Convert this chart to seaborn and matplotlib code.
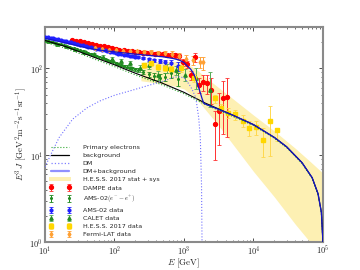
import numpy as np
import pandas as pd
import seaborn as sns
import matplotlib.pyplot as plt
from matplotlib.lines import Line2D
from matplotlib.patches import Patch
from matplotlib.ticker import FuncFormatter, LogLocator, NullFormatter

# model curves (E in GeV, E^3 J)
bkg_E = [10, 20, 50, 100, 200, 500, 1000, 2000, 5000, 1e4, 2e4, 3e4, 5e4, 7e4, 8.5e4, 9.5e4, 1e5]
bkg_F = [210, 178, 135, 110, 88, 67, 53, 40, 29, 22.5, 16, 12.5, 8.2, 5.5, 3.6, 2.2, 1.0]
prim_F = [200, 170, 129, 105, 84, 64, 51, 38.5, 28, 22, 15.6, 12.2, 8.0, 5.4, 3.5, 2.15, 1.0]

dm_E = [10, 12, 16, 25, 40, 61, 100, 180, 316, 550, 700, 850, 1000, 1180, 1300, 1480, 1630, 1720, 1790, 1820]
dm_F = [7.3, 10, 16, 26, 35, 42, 49, 56, 64, 73, 79, 80, 78, 66, 58, 46, 27, 15.7, 4.5, 1.0]

tot_E = [10, 20, 40, 60, 100, 200, 316, 500, 700, 850, 1000, 1100, 1250, 1390, 1530, 1630, 1750, 1820, 1930,
         2000, 5000, 1e4, 2e4, 3e4, 5e4, 7e4, 8.5e4, 9.5e4, 1e5]
tot_F = [222, 196, 172, 163, 155, 146, 141, 136, 130, 125, 117, 108, 98, 86, 70, 60, 50, 45, 39.5,
         39, 29, 22.5, 16, 12.5, 8.2, 5.5, 3.6, 2.2, 1.0]

# H.E.S.S. 2017 stat + sys band
band_E = [240, 400, 700, 1000, 1500, 2000, 3000, 5000, 1e4, 2e4, 4e4, 6.5e4, 1e5]
band_lo = [72, 68, 63, 58, 45, 34, 23, 13.5, 6.5, 3.3, 1.6, 1.0, 0.6]
band_hi = [118, 120, 121, 118, 98, 80, 62, 45, 29, 19, 12, 8.5, 6.2]

# DAMPE
dampe_E = [24.1, 27.8, 31.6, 36.1, 41.2, 47.0, 53.6, 61.2, 69.8, 79.6, 90.9, 104, 118, 135, 154, 176,
           200, 229, 261, 298, 340, 388, 442, 505, 576, 657, 750, 855, 976, 1114, 1270,
           1450, 1654, 1887, 2153, 2457, 2804, 3199, 3650, 4164]
dampe_F = [213, 209, 205, 200, 196, 191, 187, 183, 179, 175, 171, 167, 164, 161, 159, 157,
           155, 153, 151, 150, 149, 148, 147, 146, 144, 143, 141, 138, 117, 112, 84,
           134, 64, 69, 67, 57, 22.7, 32, 45.6, 47]
dampe_lo = [4, 4, 4, 4, 4, 4, 4, 4, 4, 4, 4, 4, 4, 4, 4, 4, 4, 4, 5, 5, 5, 5, 6, 6, 7, 7, 8, 9,
            10, 11, 10, 14, 12, 14, 16, 18, 14, 19, 28, 31]
dampe_hi = [4, 4, 4, 4, 4, 4, 4, 4, 4, 4, 4, 4, 4, 4, 4, 4, 4, 4, 5, 5, 5, 5, 6, 6, 7, 7, 8, 9,
            10, 11, 10, 16, 14, 16, 18, 20, 10, 20, 26, 30]

# AMS-02 electrons
amse_E = [10, 11, 12, 13, 14, 15.5, 17, 18.5, 20, 22, 24, 26.5, 29, 32, 35, 38.5, 42, 46, 50, 55, 60,
          66, 72, 79, 86, 95, 104, 114, 125, 137, 150, 165, 180, 198, 216, 260, 312, 375, 450, 540, 650, 830]
amse_F = [210, 206, 203, 200, 197, 193, 189, 186, 182, 178, 174, 170, 166, 162, 158, 154, 150, 147, 143,
          140, 136, 132, 129, 125, 122, 119, 116, 113, 110, 107, 105, 102, 100, 98, 96, 92, 86, 81, 78,
          80, 88, 76]
amse_err = [2, 2, 2, 2, 2, 2, 2, 2, 2, 2, 2, 2, 2, 2, 2, 2, 2, 2, 2, 2, 2, 2, 2, 2, 2, 2, 3, 3, 3, 3,
            3, 3, 4, 4, 4, 5, 6, 7, 8, 9, 11, 13]

# AMS-02 e+ + e-
ams_E = [10, 11, 12, 13, 14, 15.5, 17, 18.5, 20, 22, 24, 26.5, 29, 32, 35, 38.5, 42, 46, 50, 55, 60,
         66, 72, 79, 86, 95, 104, 114, 125, 137, 150, 165, 180, 198, 216, 260, 312, 375, 450, 540, 650, 830]
ams_F = [232, 229, 226, 223, 220, 216, 213, 209, 206, 202, 199, 195, 192, 188, 185, 181, 178, 175, 172,
         169, 166, 163, 161, 158, 156, 153, 151, 148, 146, 144, 142, 140, 139, 137, 135, 131, 128, 124,
         121, 118, 115, 106]
ams_err = [3, 3, 3, 3, 3, 3, 3, 3, 3, 3, 3, 3, 3, 3, 3, 3, 3, 3, 3, 3, 3, 3, 3, 3, 3, 3, 3, 3, 3, 3,
           3, 4, 4, 4, 4, 4, 5, 6, 7, 8, 10, 12]

# CALET
calet_E = [11, 15, 20, 27, 37, 50, 68, 92, 125, 170, 230, 310, 420, 570, 770, 1040, 1480, 2400]
calet_F = [205, 192, 180, 168, 156, 146, 137, 129, 121, 114, 100, 108, 83, 100, 95, 85, 78, 57]
calet_lo = [5, 5, 5, 5, 5, 5, 5, 5, 6, 7, 8, 9, 10, 11, 12, 14, 20, 21]
calet_hi = [5, 5, 5, 5, 5, 5, 5, 5, 6, 7, 8, 9, 10, 11, 12, 14, 22, 33]

# H.E.S.S. 2017
hess_E = [270, 330, 430, 530, 650, 900, 1390, 2770, 3450, 4370, 5500, 7000, 8700, 11000, 13900, 17300, 21600]
hess_F = [108, 114, 104, 102, 98, 100, 78, 45, 34.5, 31, 29.5, 25, 20.5, 21, 15, 24.7, 19.4]
hess_lo = [8, 8, 8, 8, 8, 9, 8, 5, 4, 4, 4, 4, 4, 4, 5.5, 15, 5]
hess_hi = [8, 8, 8, 8, 8, 9, 8, 5, 4, 4, 4, 4, 4, 4, 5.5, 12, 1]

# Fermi-LAT
fermi_E = [52, 66, 83, 105, 132, 166, 209, 264, 332, 419, 527, 665, 837, 1055, 1329, 1674, 1900]
fermi_F = [172, 168, 165, 162, 160, 158, 157, 156, 155, 152, 150, 148, 138, 128, 124, 118, 117]
fermi_err = [5, 5, 5, 5, 5, 5, 6, 6, 7, 8, 9, 10, 12, 14, 16, 18, 20]

sns.set_style("ticks")
plt.rcParams['font.family'] = ['DejaVu Sans']
plt.rcParams['mathtext.fontset'] = 'cm'

fig, ax = plt.subplots(figsize=(3.6, 2.7), dpi=100)
fig.subplots_adjust(left=0.125, right=0.897, bottom=0.104, top=0.9)
ax.set_xscale('log')
ax.set_yscale('log')

ax.fill_between(band_E, band_lo, band_hi, color='#fdf0b3', lw=0, zorder=1)

eb = dict(capsize=1.2, capthick=0.6, elinewidth=0.7, zorder=3)
h_dampe = ax.errorbar(dampe_E, dampe_F, yerr=[dampe_lo, dampe_hi], fmt='o', ms=2.8, color='#ff0000',
                      ecolor='#ff3030', **eb)
h_amse = ax.errorbar(amse_E, amse_F, yerr=amse_err, fmt='o', ms=1.2, color='#1f8a1f', ecolor='#1f8a1f', **eb)
h_ams = ax.errorbar(ams_E, ams_F, yerr=ams_err, fmt='o', ms=2.0, color='#2020ff', ecolor='#2020ff', **eb)
h_calet = ax.errorbar(calet_E, calet_F, yerr=[calet_lo, calet_hi], fmt='^', ms=2.4, color='#228b22',
                      ecolor='#55aa55', **eb)
h_hess = ax.errorbar(hess_E, hess_F, yerr=[hess_lo, hess_hi], fmt='s', ms=2.6, color='#ffd700',
                     ecolor='#ffd84d', **eb)
h_fermi = ax.errorbar(fermi_E, fermi_F, yerr=fermi_err, fmt='d', ms=2.2, color='#ffa033',
                      ecolor='#ffa033', **eb)

sns.lineplot(x=bkg_E, y=prim_F, ax=ax, color='#33aa33', lw=0.8, linestyle=':', zorder=4)
sns.lineplot(x=bkg_E, y=bkg_F, ax=ax, color='black', lw=0.8, zorder=5)
sns.lineplot(x=dm_E, y=dm_F, ax=ax, color='#7070ff', lw=0.8, linestyle=':', zorder=5)
sns.lineplot(x=tot_E, y=tot_F, ax=ax, color='#1515c8', lw=0.9, zorder=6)

ax.set_xlim(10, 1e5)
ax.set_ylim(1, 300)

fmt = FuncFormatter(lambda v, p: r'$10^{%d}$' % round(np.log10(v)))
ax.xaxis.set_major_formatter(fmt)
ax.yaxis.set_major_formatter(fmt)
ax.xaxis.set_major_locator(LogLocator(base=10, numticks=10))
ax.yaxis.set_major_locator(LogLocator(base=10, numticks=10))
ax.xaxis.set_minor_formatter(NullFormatter())
ax.yaxis.set_minor_formatter(NullFormatter())
ax.tick_params(which='both', direction='in', top=True, right=True, labelsize=6, pad=1.5, color='#333333')
ax.tick_params(which='major', length=3, width=0.6)
ax.tick_params(which='minor', length=1.5, width=0.5)
for s in ax.spines.values():
    s.set_color('#8a8a8a')
    s.set_linewidth(1.5)

ax.set_xlabel(r'$E\ [\mathrm{GeV}]$', fontsize=6.5, labelpad=0)
ax.set_ylabel(r'$E^3\,J\ [\mathrm{GeV}^2\mathrm{m}^{-2}\mathrm{s}^{-1}\mathrm{sr}^{-1}]$', fontsize=6.5, labelpad=0.5)

handles = [
    Line2D([], [], color='#33aa33', ls=':', lw=0.8),
    Line2D([], [], color='black', lw=0.9),
    Line2D([], [], color='#8080ff', ls=':', lw=0.9),
    Line2D([], [], color='#9090ff', lw=1.6),
    Patch(color='#fdf0b3', lw=0),
    h_dampe, h_amse, h_ams, h_calet, h_hess, h_fermi,
]
labels = ['Primary electrons', 'background', 'DM', 'DM+background', 'H.E.S.S. 2017 stat + sys',
          'DAMPE data', r'AMS-02$(e^{-}-e^{+})$', 'AMS-02 data', 'CALET data', 'H.E.S.S. 2017 data',
          'Fermi-LAT data']
ax.legend(handles, labels, loc='lower left', bbox_to_anchor=(0.0, 0.0), frameon=False, fontsize=4.6,
          numpoints=2, handlelength=3.4, handletextpad=1.8, labelspacing=0.42, borderaxespad=0.3)

plt.savefig('out.png', dpi=100)
